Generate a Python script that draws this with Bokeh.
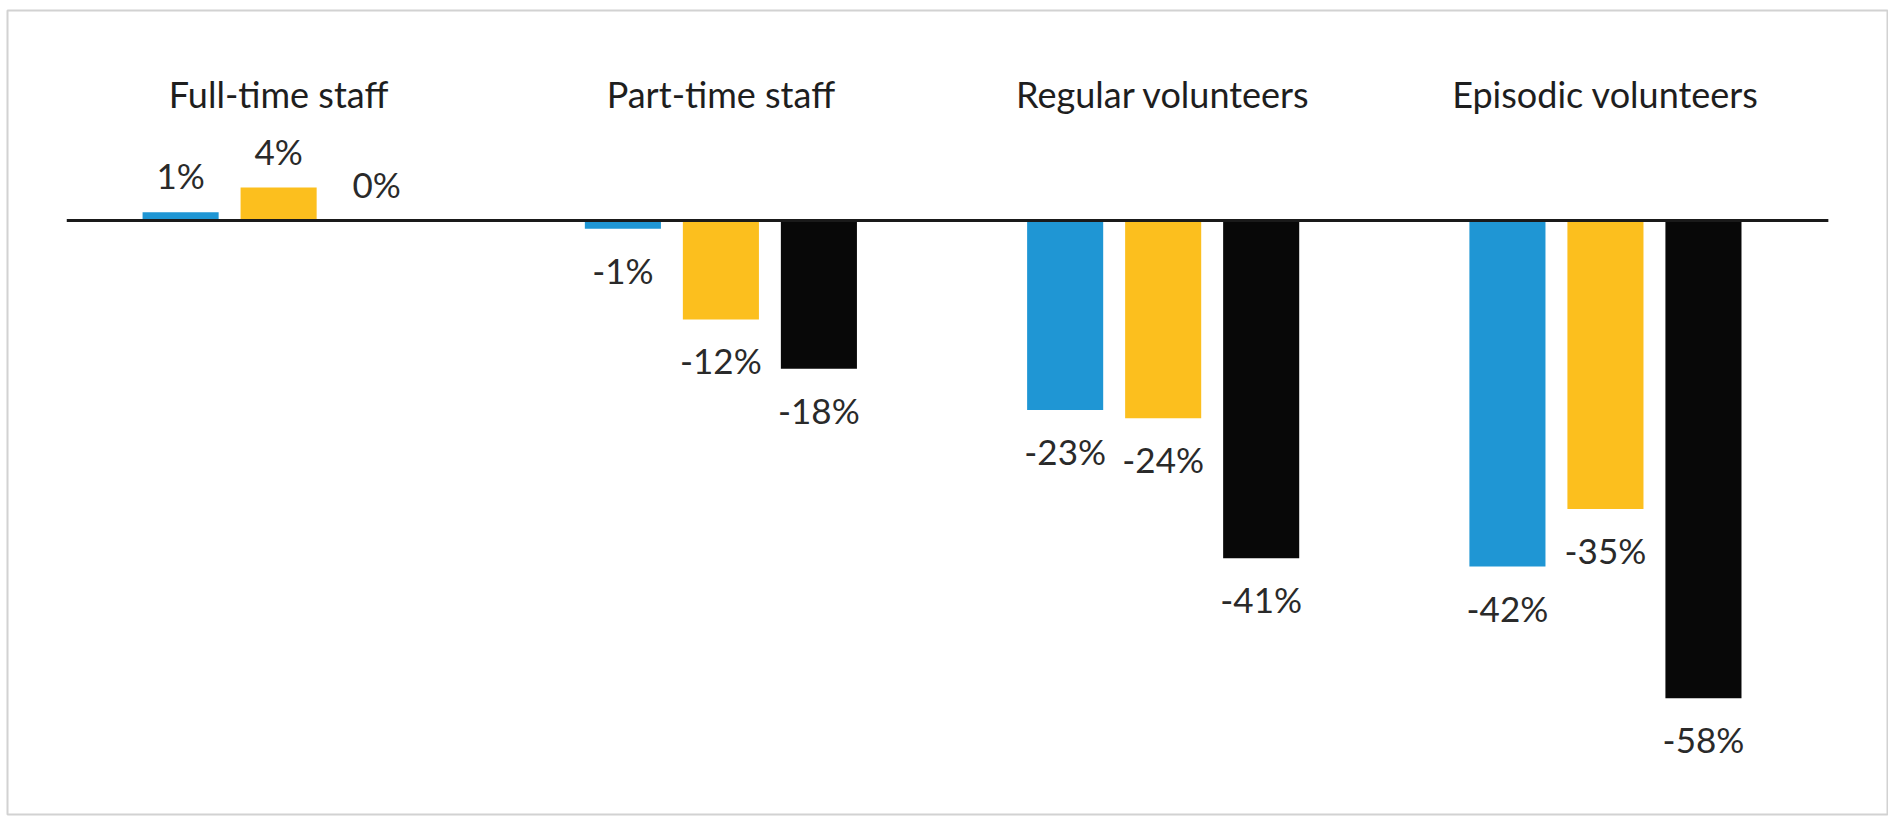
from bokeh.plotting import figure
from bokeh.models import ColumnDataSource, Range1d
from bokeh.transform import dodge
from bokeh.core.properties import value
from bokeh.embed import file_html
from bokeh.resources import INLINE

# ---- data ----
categories = ["Full-time staff", "Part-time staff", "Regular volunteers", "Episodic volunteers"]
series_names = ["Series 1", "Series 2", "Series 3"]
series_blue = [1, -1, -23, -42]
series_yellow = [4, -12, -24, -35]
series_black = [0, -18, -41, -58]
series_colors = ["#1f96d4", "#fcbf1e", "#080808"]

# ---- layout constants ----
FONT = "Lato"
TEXT_COLOR = "#2a2a2a"
BAR_WIDTH = 0.172
BAR_STEP = 0.2216
offsets = [-BAR_STEP, 0.0, BAR_STEP]

x_pos = list(range(len(categories)))

p = figure(width=1888, height=816, output_backend="svg", toolbar_location=None,
           x_range=Range1d(x_pos[0] - 0.613, x_pos[-1] + 0.64),
           y_range=Range1d(-72.1, 25.5),
           min_border_left=7, min_border_top=10, min_border_bottom=2, min_border_right=0)

p.xaxis.visible = False
p.yaxis.visible = False
p.xgrid.visible = False
p.ygrid.visible = False
p.outline_line_color = "#d2d2d2"
p.outline_line_width = 2
p.background_fill_color = "white"
p.border_fill_color = "white"

all_series = [series_blue, series_yellow, series_black]
for name, vals, col, off in zip(series_names, all_series, series_colors, offsets):
    src = ColumnDataSource(dict(
        x=x_pos,
        v=vals,
        label=[f"{v}%" for v in vals],
        yoff=[-37 if v >= 0 else 41 for v in vals],
        cat=categories,
    ))
    p.vbar(x=dodge("x", off, range=p.x_range), top="v", bottom=0, width=BAR_WIDTH,
           fill_color=col, line_color=None, source=src)
    p.text(x=dodge("x", off, range=p.x_range), y="v", text="label", y_offset="yoff",
           text_align="center", text_baseline="alphabetic",
           text_font=value(FONT), text_font_size="35px", text_color=TEXT_COLOR, source=src)

# zero line
p.segment(x0=x_pos[0] - 0.479, y0=0, x1=x_pos[-1] + 0.504, y1=0,
          line_color="#1a1a1a", line_width=3)

# category titles
title_src = ColumnDataSource(dict(x=x_pos, cat=categories, y=[0] * len(categories)))
p.text(x="x", y="y", text="cat", y_offset=-127, text_align="center",
       text_baseline="alphabetic", text_font=value(FONT), text_font_size="36px",
       text_color="#1e1e1e", source=title_src)

open("out.html", "w").write(file_html(p, INLINE, title="Change in staff and volunteers"))
